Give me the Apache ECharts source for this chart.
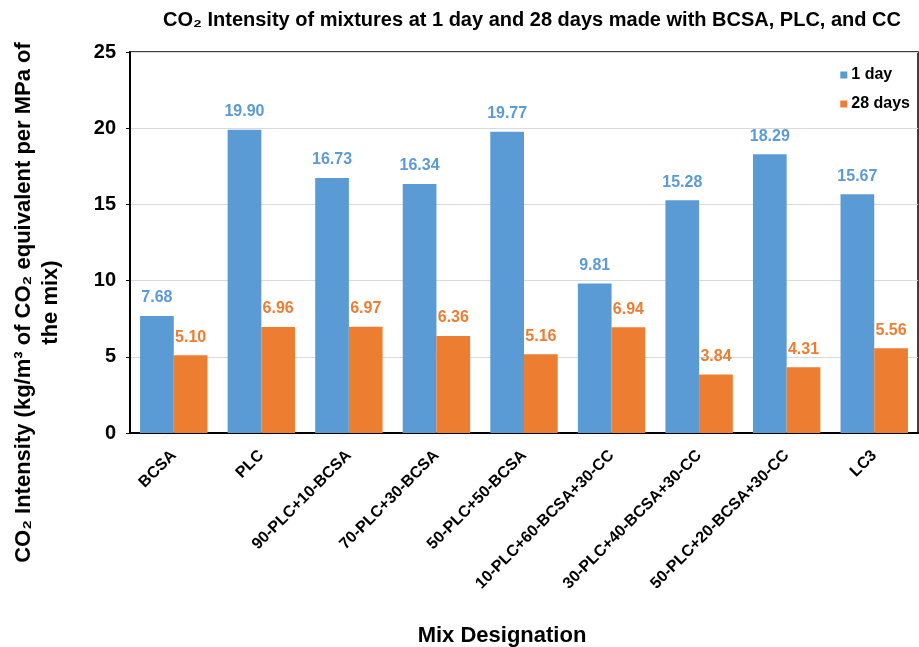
<!DOCTYPE html>
<html><head><meta charset="utf-8">
<script src="https://cdn.jsdelivr.net/npm/echarts@6/dist/echarts.min.js"></script>
<style>html,body{margin:0;padding:0;background:#fff}#c{width:919px;height:647px}</style>
</head><body><div id="c"></div>
<script>
var categories = ["BCSA","PLC","90-PLC+10-BCSA","70-PLC+30-BCSA","50-PLC+50-BCSA","10-PLC+60-BCSA+30-CC","30-PLC+40-BCSA+30-CC","50-PLC+20-BCSA+30-CC","LC3"];
var day1 = [7.68,19.90,16.73,16.34,19.77,9.81,15.28,18.29,15.67];
var day28 = [5.10,6.96,6.97,6.36,5.16,6.94,3.84,4.31,5.56];
var seriesNames = ["1 day","28 days"];
var yTicks = {min:0,max:25,interval:5};
var F = "'Liberation Sans', Arial, sans-serif";
var chart = echarts.init(document.getElementById('c'));
chart.setOption({
  animation:false,
  title:[{text:'CO₂ Intensity of mixtures at 1 day and 28 days made with BCSA, PLC, and CC',left:527,top:5,textAlign:'center',textStyle:{fontFamily:F,fontWeight:'bold',fontSize:20,color:'#000'}},
         {text:'Mix Designation',left:497,top:620,textAlign:'center',textStyle:{fontFamily:F,fontWeight:'bold',fontSize:22,color:'#000'}}],
  legend:{orient:'vertical',right:4,top:62,itemWidth:7,itemHeight:7,itemGap:13,icon:'rect',
    textStyle:{fontFamily:F,fontWeight:'bold',fontSize:16,color:'#000',padding:[0,0,0,-1]},data:seriesNames},
  grid:{left:130,right:1,top:52,bottom:214,show:true,borderColor:'#000',borderWidth:1.5,containLabel:false,outerBoundsMode:'none'},
  xAxis:{type:'category',data:categories,
    axisLine:{lineStyle:{color:'#000',width:2}},axisTick:{show:false},
    axisLabel:{rotate:45,interval:0,fontFamily:F,fontWeight:'bold',fontSize:16,color:'#000',margin:20}},
  yAxis:{type:'value',min:yTicks.min,max:yTicks.max,interval:yTicks.interval,
    name:'CO₂ Intensity (kg/m³ of CO₂ equivalent per MPa of\nthe mix)',nameLocation:'middle',nameGap:66,
    nameTextStyle:{fontFamily:F,fontWeight:'bold',fontSize:22,color:'#000',lineHeight:27,align:'center',padding:[0,120,0,0]},
    axisLine:{show:true,lineStyle:{color:'#000',width:2}},axisTick:{show:true,length:4,lineStyle:{color:'#000'}},
    splitLine:{lineStyle:{color:'#d9d9d9',width:1}},
    axisLabel:{fontFamily:F,fontWeight:'bold',fontSize:20,color:'#000',margin:14}},
  series:[
    {name:seriesNames[0],type:'bar',data:day1,barGap:'0%',barCategoryGap:'23%',itemStyle:{color:'#5B9BD5'},
     label:{show:true,position:'top',distance:10,formatter:function(p){return p.value.toFixed(2);},fontFamily:F,fontWeight:'bold',fontSize:16,color:'#5B9BD5'}},
    {name:seriesNames[1],type:'bar',data:day28,itemStyle:{color:'#ED7D31'},
     label:{show:true,position:'top',distance:10,formatter:function(p){return p.value.toFixed(2);},fontFamily:F,fontWeight:'bold',fontSize:16,color:'#ED7D31'}}
  ]
});
</script></body></html>
